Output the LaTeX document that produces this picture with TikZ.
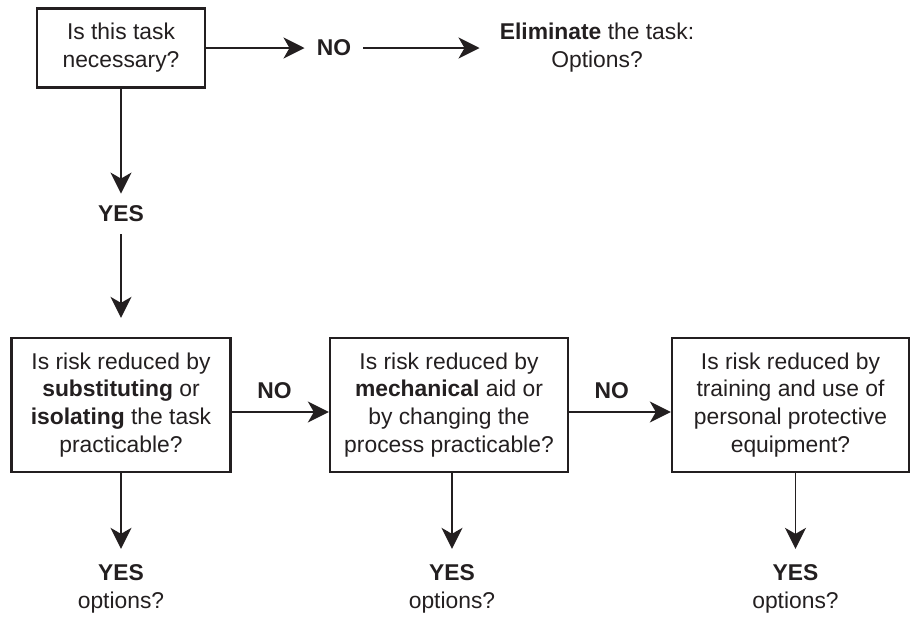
\documentclass[tikz,border=0pt]{standalone}
\usepackage{fontspec}
\setmainfont{Liberation Sans}
\usepackage{xcolor}
\usepackage{tikz}
\usetikzlibrary{shapes.geometric, arrows.meta, positioning}
\definecolor{inkgray}{HTML}{231F20}
\tikzstyle{question} = [rectangle, minimum height=2.68cm, inner sep=2pt, text centered, align=center, draw=inkgray, line width=1.3pt, fill=white]
\tikzstyle{answer} = [align=center, inner sep=0.24cm]
\tikzstyle{arrow} = [line width=1.1pt, -{Stealth[length=0.42cm, width=0.42cm, inset=0.12cm]}]

\begin{document}
\begin{tikzpicture}[node distance = 3.32cm, font=\fontsize{13}{15.9}\selectfont, color=inkgray]
	\useasboundingbox (0,0) rectangle (18.32,-12.34);
	\node (q1) [question, minimum width=3.36cm, minimum height=1.58cm] at (2.42,-0.96) {Is this task\\necessary?};
	\node (no1) [answer, right of=q1, node distance=4.26cm] {\bfseries NO};
	\node (elim) [answer, right of=no1, node distance=5.26cm, inner sep=0.4cm] {\textbf{Eliminate} the task:\\Options?};
	\node (yes1) [answer, below of=q1] {\bfseries YES};
	\node (q2) [question, below of=yes1, node distance=3.82cm, minimum width=4.38cm] {Is risk reduced by\\\textbf{substituting} or\\\textbf{isolating} the task\\practicable?};
	\node (q3) [question, right of=q2, node distance=6.56cm, minimum width=4.76cm] {Is risk reduced by\\\textbf{mechanical} aid or\\by changing the\\process practicable?};
	\node (q4) [question, right of=q3, node distance=6.83cm, minimum width=4.74cm] {Is risk reduced by\\training and use of\\personal protective\\equipment?};
	\node (yes2) [answer, below of=q2, node distance=3.67cm, inner sep=0.3cm] {\textbf{YES}\\options?};
	\node (yes3) [answer, below of=q3, node distance=3.67cm, inner sep=0.3cm, xshift=0.06cm] {\textbf{YES}\\options?};
	\node (yes4) [answer, below of=q4, node distance=3.67cm, inner sep=0.3cm, xshift=0.1cm] {\textbf{YES}\\options?};
	\draw [arrow] (q1) -- (no1);
	\draw [arrow] (no1) -- (elim);
	\draw [arrow] (q1) -- (yes1);
	\draw [arrow, shorten >=0.38cm] (yes1) -- (q2);
	\draw [arrow] ([yshift=-0.14cm]q2.east) -- node[answer, above, pos=0.44] {\bfseries NO} ([yshift=-0.14cm]q3.west);
	\draw [arrow] ([yshift=-0.14cm]q3.east) -- node[answer, above, pos=0.42] {\bfseries NO} ([yshift=-0.14cm]q4.west);
	\draw [arrow] (q2.south -| yes2) -- (yes2);
	\draw [arrow] (q3.south -| yes3) -- (yes3);
	\draw [arrow] (q4.south -| yes4) -- (yes4);
\end{tikzpicture}
\end{document}
